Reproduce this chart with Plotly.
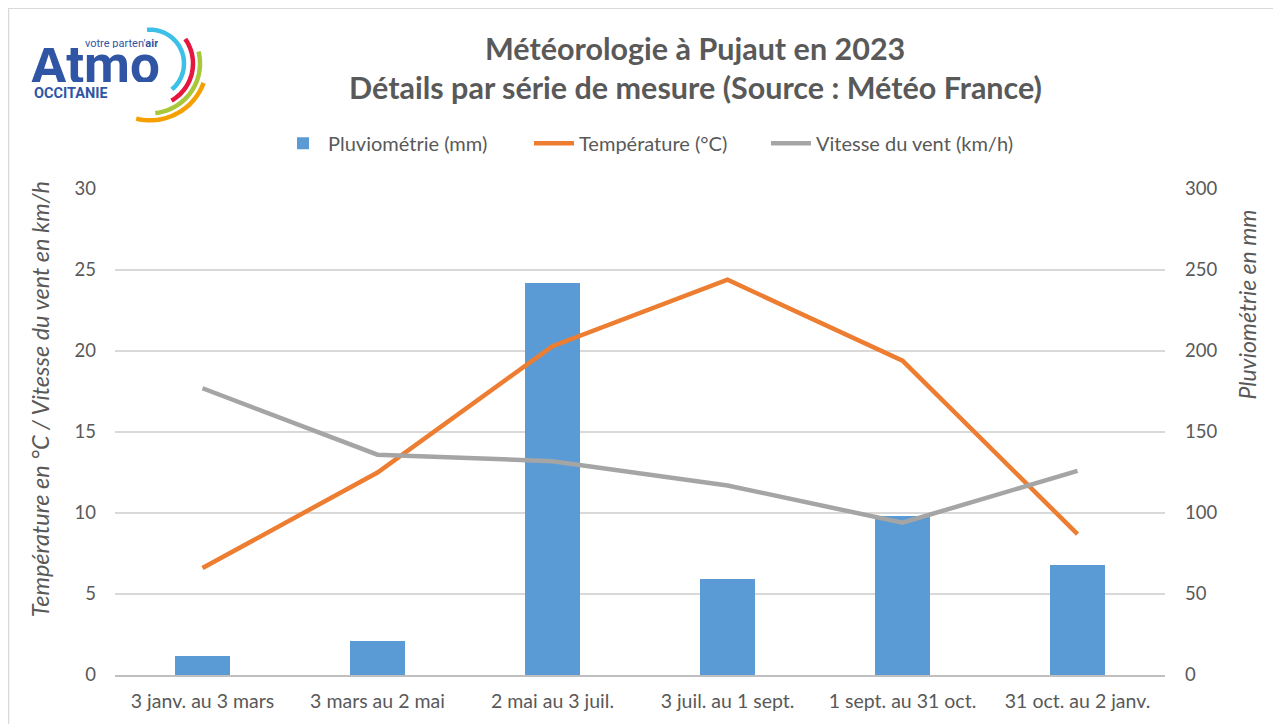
import math
import plotly.graph_objects as go

categories = ["3 janv. au 3 mars", "3 mars au 2 mai", "2 mai au 3 juil.",
              "3 juil. au 1 sept.", "1 sept. au 31 oct.", "31 oct. au 2 janv."]
pluviometrie = [12, 21, 242, 59, 98, 68]
temperature = [6.6, 12.5, 20.3, 24.4, 19.4, 8.7]
vent = [17.7, 13.6, 13.2, 11.7, 9.4, 12.6]

left_ticks = [0, 5, 10, 15, 20, 25, 30]
right_ticks = [0, 50, 100, 150, 200, 250, 300]

# page offset (browser body margin)
OX, OY = 8, 8
W, H = 1273, 716
ML, MT = 115 - OX, 189 - OY
MR = W - (1165 - OX)
MB = H - (677 - OY)
PW, PH = W - ML - MR, H - MT - MB

def px(x):
    return (x - OX - ML) / PW

def py(y):
    return (H - MB - (y - OY)) / PH

FONT = "Lato"
GREY_TXT = "#595959"

fig = go.Figure()
fig.add_trace(go.Bar(x=categories, y=pluviometrie, name="Pluviométrie (mm)",
                     marker=dict(color="#5b9bd5", line=dict(width=0)),
                     width=0.314, yaxis="y", legend="legend"))
fig.add_trace(go.Scatter(x=categories, y=temperature, name="Température (°C)",
                         mode="lines", line=dict(color="#ed7d31", width=4.5),
                         yaxis="y2", legend="legend2"))
fig.add_trace(go.Scatter(x=categories, y=vent, name="Vitesse du vent (km/h)",
                         mode="lines", line=dict(color="#a5a5a5", width=4.5),
                         yaxis="y2", legend="legend3"))

shapes = []
# outer frame
shapes.append(dict(type="rect", xref="paper", yref="paper",
                   x0=px(8.5), x1=px(1280), y0=py(7.5), y1=py(740),
                   line=dict(color="#d9d9d9", width=1.5), layer="below"))

# logo arcs
cx, cy = 150, 63
arcs = [(34, -95, 50, "#3cc0e8"), (43, -35, 60, "#e5173f"),
        (50, -14, 84, "#a8c83a"), (57, 20, 104, "#f5a000")]
for r, a0, a1, col in arcs:
    pts = []
    n = 30
    for i in range(n + 1):
        a = math.radians(a0 + (a1 - a0) * i / n)
        x = cx + r * math.cos(a)
        y = cy + r * math.sin(a)
        pts.append((px(x), py(y)))
    path = "M " + " L ".join(f"{a:.5f},{b:.5f}" for a, b in pts)
    shapes.append(dict(type="path", xref="paper", yref="paper", path=path,
                       line=dict(color=col, width=4.5)))

annotations = [
    dict(text="<b>Météorologie à Pujaut en 2023</b>", x=px(695), y=py(47),
         xref="paper", yref="paper", showarrow=False, xanchor="center", yanchor="middle",
         font=dict(family=FONT, size=30.5, color=GREY_TXT)),
    dict(text="<b>Détails par série de mesure (Source : Météo France)</b>", x=px(695), y=py(87),
         xref="paper", yref="paper", showarrow=False, xanchor="center", yanchor="middle",
         font=dict(family=FONT, size=30.5, color=GREY_TXT)),
    dict(text="<i>Température en °C / Vitesse du vent en km/h</i>", x=px(40), y=py(400),
         xref="paper", yref="paper", showarrow=False, textangle=-90,
         xanchor="center", yanchor="middle",
         font=dict(family=FONT, size=23.5, color=GREY_TXT)),
    dict(text="<i>Pluviométrie en mm</i>", x=px(1247), y=py(305),
         xref="paper", yref="paper", showarrow=False, textangle=-90,
         xanchor="center", yanchor="middle",
         font=dict(family=FONT, size=23, color=GREY_TXT)),
    # logo text
    dict(text="<b>Atmo</b>", x=px(29), y=py(64), xref="paper", yref="paper",
         showarrow=False, xanchor="left", yanchor="middle", height=34,
         font=dict(family="Roboto", size=53, color="#2f55a4")),
    dict(text="<b>OCCITANIE</b>", x=px(32), y=py(93), xref="paper", yref="paper",
         showarrow=False, xanchor="left", yanchor="middle", height=12,
         font=dict(family="Roboto", size=14.5, color="#2f55a4")),
    dict(text="votre parten'<b>air</b>", x=px(83), y=py(43), xref="paper", yref="paper",
         showarrow=False, xanchor="left", yanchor="middle", height=9,
         font=dict(family="Roboto", size=11, color="#2f55a4")),
]

legend_common = dict(orientation="h", xanchor="left", y=py(143), yanchor="middle",
                     font=dict(family=FONT, size=20, color=GREY_TXT),
                     itemwidth=40, tracegroupgap=0, bgcolor="rgba(0,0,0,0)")

fig.update_layout(
    width=W, height=H,
    margin=dict(l=ML, r=MR, t=MT, b=MB, pad=0),
    paper_bgcolor="white", plot_bgcolor="white",
    font=dict(family=FONT, color=GREY_TXT),
    bargap=0.0,
    showlegend=True,
    legend=dict(x=px(278), **legend_common),
    legend2=dict(x=px(529), **legend_common),
    legend3=dict(x=px(766), **legend_common),
    xaxis=dict(type="category", range=[-0.5, 5.5], showgrid=False,
               showline=True, linecolor="#bfbfbf", linewidth=1.5,
               ticks="", tickfont=dict(family=FONT, size=19.5, color=GREY_TXT),
               ticklabelstandoff=8, fixedrange=True),
    yaxis=dict(range=[0, 300], side="right", tickvals=right_ticks,
               showgrid=True, gridcolor="#d9d9d9", gridwidth=1.5,
               zeroline=False, showline=False, ticks="",
               tickfont=dict(family=FONT, size=18.5, color=GREY_TXT),
               ticklabelstandoff=19),
    yaxis2=dict(range=[0, 30], side="left", overlaying="y", tickvals=left_ticks,
                showgrid=False, zeroline=False, showline=False, ticks="",
                tickfont=dict(family=FONT, size=18.5, color=GREY_TXT),
                ticklabelstandoff=18),
    shapes=shapes,
    annotations=annotations,
)

fig.write_html("out.html")
